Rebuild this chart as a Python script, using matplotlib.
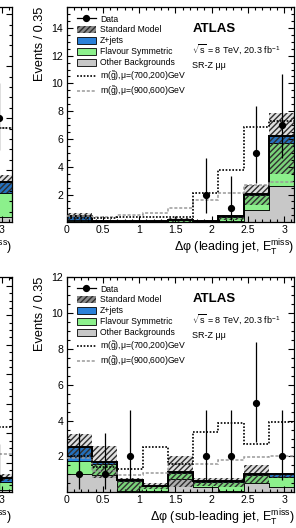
import numpy as np
import matplotlib
matplotlib.use('Agg')
import matplotlib.pyplot as plt
from matplotlib.lines import Line2D
from matplotlib.patches import Patch
from matplotlib.ticker import MultipleLocator, FuncFormatter

plt.rcParams['font.family'] = ['Liberation Sans', 'DejaVu Sans']
plt.rcParams['mathtext.fontset'] = 'custom'
plt.rcParams['mathtext.rm'] = 'Liberation Sans'
plt.rcParams['mathtext.it'] = 'Liberation Sans:italic'
plt.rcParams['mathtext.bf'] = 'Liberation Sans:bold'
plt.rcParams['hatch.linewidth'] = 1.0

# ---------------- data ----------------
bin_edges = np.linspace(0, np.pi, 10)   # 9 bins of 0.35

# leading jet panel
lead_data = [0, 0, 0, 0, 0, 2, 1, 5, 7]
lead_err_lo = [0, 0, 0, 0, 0, 0.7, 0.17, 2.8, 4.6]
lead_err_hi = [0, 0, 0, 0, 0, 4.6, 3.3, 8.4, 10.7]
lead_other = [0.10, 0.05, 0.03, 0.03, 0.05, 0.03, 0.10, 0.87, 2.6]
lead_fs = [0.05, 0.03, 0.02, 0.02, 0.10, 0.05, 0.30, 1.08, 3.1]
lead_zjets = [0.30, 0.02, 0.01, 0.01, 0.03, 0.02, 0.03, 0.10, 0.5]
lead_band_lo = [0.15, 0.02, 0.02, 0.02, 0.05, 0.03, 0.15, 1.25, 3.5]
lead_band_hi = [0.70, 0.20, 0.12, 0.12, 0.30, 0.20, 0.55, 2.70, 7.9]
lead_sig700 = [0.30, 0.30, 0.35, 0.40, 0.40, 2.10, 3.75, 6.85, 7.3]
lead_sig900 = [0.45, 0.40, 0.55, 0.70, 1.00, 1.60, 2.10, 2.70, 2.9]

# sub-leading jet panel
sub_data = [1, 1, 2, 0, 0, 2, 2, 5, 2]
sub_err_lo = [0.17, 0.17, 0.7, 0, 0, 0.7, 0.7, 2.8, 0.7]
sub_err_hi = [3.3, 3.3, 4.6, 0, 0, 4.6, 4.6, 8.4, 4.6]
sub_other = [1.00, 0.95, 0.10, 0.05, 0.75, 0.30, 0.05, 0.50, 0.30]
sub_fs = [0.74, 0.65, 0.55, 0.30, 0.35, 0.30, 0.55, 0.45, 0.55]
sub_zjets = [0.81, 0.10, 0.05, 0.03, 0.05, 0.05, 0.03, 0.10, 0.17]
sub_band_lo = [1.90, 0.80, 0.10, 0.20, 0.30, 0.35, 0.30, 0.50, 0.80]
sub_band_hi = [3.25, 2.57, 0.80, 0.50, 2.05, 0.80, 0.80, 1.55, 1.10]
sub_sig700 = [2.0, 1.4, 1.3, 2.5, 1.6, 3.35, 3.85, 2.7, 3.9]
sub_sig900 = [1.9, 1.2, 0.95, 1.1, 1.6, 1.6, 1.8, 1.95, 2.0]

# neighbouring (ee) panels, only the last bin is visible
ee_lead_data = [10]
ee_lead_err_lo = [6.9]
ee_lead_err_hi = [13.4]
ee_lead_other = [0.5]
ee_lead_fs = [2.3]
ee_lead_zjets = [1.05]
ee_lead_band_lo = [2.8]
ee_lead_band_hi = [4.5]
ee_lead_sig700 = [9.05]
ee_lead_sig900 = [9.05]

ee_sub_data = [1]
ee_sub_err_lo = [0.17]
ee_sub_err_hi = [3.3]
ee_sub_other = [0.14]
ee_sub_fs = [0.56]
ee_sub_zjets = [0.30]
ee_sub_band_lo = [0.75]
ee_sub_band_hi = [1.22]
ee_sub_sig700 = [4.4]
ee_sub_sig900 = [2.6]

legend_labels = ['Data', 'Standard Model', 'Z+jets', 'Flavour Symmetric',
                 'Other Backgrounds',
                 r'm($\tilde{\mathrm{g}}$),μ=(700,200)GeV',
                 r'm($\tilde{\mathrm{g}}$),μ=(900,600)GeV']

C_Z = '#2a80d8'
C_FS = '#8cf08c'
C_OT = '#c8c8c8'
C_HATCH = '#2e2e2e'
C_SIG2 = '#9a9a9a'

FS_TICK = 7.6


def style_axes(ax, ylim, major, minor):
    ax.set_xlim(0, np.pi)
    ax.set_ylim(*ylim)
    ax.xaxis.set_major_locator(MultipleLocator(0.5))
    ax.xaxis.set_minor_locator(MultipleLocator(0.1))
    ax.yaxis.set_major_locator(MultipleLocator(major))
    ax.yaxis.set_minor_locator(MultipleLocator(minor))
    ax.xaxis.set_major_formatter(FuncFormatter(lambda v, p: '%g' % v))
    ax.tick_params(which='both', direction='in', top=True, right=True,
                   labelsize=FS_TICK, width=0.8, pad=2.5)
    ax.tick_params(which='major', length=4.0)
    ax.tick_params(which='minor', length=2.0)
    for s in ax.spines.values():
        s.set_linewidth(0.9)


def draw_panel(ax, edges, data, elo, ehi, other, fs, zj, blo, bhi, s700, s900):
    other = np.asarray(other, float)
    fs = np.asarray(fs, float)
    zj = np.asarray(zj, float)
    c1 = other
    c2 = other + fs
    c3 = c2 + zj
    ax.stairs(c1, edges, baseline=0, fill=True, facecolor=C_OT,
              edgecolor='black', lw=0.6, zorder=1)
    ax.stairs(c2, edges, baseline=c1, fill=True, facecolor=C_FS,
              edgecolor='black', lw=0.6, zorder=1)
    ax.stairs(c3, edges, baseline=c2, fill=True, facecolor=C_Z,
              edgecolor='black', lw=0.6, zorder=1)
    ax.stairs(np.asarray(bhi, float), edges, baseline=np.asarray(blo, float),
              fill=True, facecolor=(0, 0, 0, 0.12), edgecolor=C_HATCH,
              hatch='//////', lw=0, zorder=2)
    ax.stairs(c3, edges, baseline=None, color='black', lw=1.4, zorder=3)
    ax.stairs(s900, edges, baseline=None, color=C_SIG2, lw=1.1,
              linestyle=(0, (2.0, 1.2)), zorder=4)
    ax.stairs(s700, edges, baseline=None, color='black', lw=1.2,
              linestyle=(0, (1.0, 1.0)), zorder=4)
    centers = 0.5 * (edges[:-1] + edges[1:])
    d = np.asarray(data, float)
    m = d > 0
    lo = d - np.asarray(elo, float)
    hi = np.asarray(ehi, float) - d
    ax.errorbar(centers[m], d[m], yerr=[lo[m], hi[m]], fmt='o', color='black',
                ms=4.2, elinewidth=0.9, capsize=0, zorder=5)


def add_labels(ax, xlabel):
    ax.set_ylabel('Events / 0.35', fontsize=9.2, loc='top')
    ax.yaxis.set_label_coords(-0.092, 1.0)
    ax.set_xlabel(xlabel, fontsize=9.0, loc='right')
    ax.xaxis.set_label_coords(1.0, -0.075)


def add_legend(ax):
    handles = [
        Line2D([], [], color='black', marker='o', ms=4.2, lw=0.9),
        Patch(facecolor='#8a8a8a', edgecolor=C_HATCH, hatch='//////', lw=0),
        Patch(facecolor=C_Z, edgecolor='black', lw=0.6),
        Patch(facecolor=C_FS, edgecolor='black', lw=0.6),
        Patch(facecolor=C_OT, edgecolor='black', lw=0.6),
        Line2D([], [], color='black', lw=1.2, linestyle=(0, (1.0, 1.0))),
        Line2D([], [], color=C_SIG2, lw=1.1, linestyle=(0, (2.0, 1.2))),
    ]
    ax.legend(handles, legend_labels, loc='upper left',
              bbox_to_anchor=(0.045, 0.965), frameon=False, fontsize=6.2,
              handlelength=2.2, handleheight=0.85, handletextpad=0.5,
              labelspacing=0.22, borderpad=0, borderaxespad=0)
    ax.text(0.552, 0.898, 'ATLAS', transform=ax.transAxes, fontsize=9.5,
            fontweight='bold', va='center', ha='left')
    ax.text(0.552, 0.805, r'$\sqrt{\mathrm{s}}$ = 8 TeV, 20.3 fb$^{\mathregular{-1}}$',
            transform=ax.transAxes, fontsize=6.5, va='center', ha='left')
    ax.text(0.552, 0.726, 'SR-Z μμ', transform=ax.transAxes, fontsize=6.5,
            va='center', ha='left')


fig = plt.figure(figsize=(2.96, 5.28), dpi=100)

W = 0.769
H = 0.4072
X_MAIN = 0.2253
X_LEFT = -0.7284
Y_TOP = 0.5795
Y_BOT = 0.0682

xl_lead = r'Δφ (leading jet, $\mathrm{E}_{\mathrm{T}}^{\mathrm{miss}}$)'
xl_sub = r'Δφ (sub-leading jet, $\mathrm{E}_{\mathrm{T}}^{\mathrm{miss}}$)'

only_three = FuncFormatter(lambda v, p: '3' if abs(v - 3) < 1e-6 else '')

# neighbouring panels (mostly outside the picture)
ax_l1 = fig.add_axes([X_LEFT, Y_TOP, W, H])
draw_panel(ax_l1, bin_edges[-2:], ee_lead_data, ee_lead_err_lo, ee_lead_err_hi,
           ee_lead_other, ee_lead_fs, ee_lead_zjets, ee_lead_band_lo,
           ee_lead_band_hi, ee_lead_sig700, ee_lead_sig900)
style_axes(ax_l1, (0.02, 20.7), 5, 1)
ax_l1.tick_params(labelleft=False)
ax_l1.xaxis.set_major_formatter(only_three)
ax_l1.set_xlabel(xl_lead, fontsize=9.0, loc='right')
ax_l1.xaxis.set_label_coords(1.0, -0.075)

ax_l2 = fig.add_axes([X_LEFT, Y_BOT, W, H])
draw_panel(ax_l2, bin_edges[-2:], ee_sub_data, ee_sub_err_lo, ee_sub_err_hi,
           ee_sub_other, ee_sub_fs, ee_sub_zjets, ee_sub_band_lo,
           ee_sub_band_hi, ee_sub_sig700, ee_sub_sig900)
style_axes(ax_l2, (0.02, 14.6), 2, 0.5)
ax_l2.tick_params(labelleft=False)
ax_l2.xaxis.set_major_formatter(only_three)
ax_l2.set_xlabel(xl_sub, fontsize=9.0, loc='right')
ax_l2.xaxis.set_label_coords(1.0, -0.075)

# main panels
ax1 = fig.add_axes([X_MAIN, Y_TOP, W, H])
draw_panel(ax1, bin_edges, lead_data, lead_err_lo, lead_err_hi, lead_other,
           lead_fs, lead_zjets, lead_band_lo, lead_band_hi, lead_sig700,
           lead_sig900)
style_axes(ax1, (0.02, 15.5), 2, 0.5)
add_labels(ax1, xl_lead)
add_legend(ax1)

ax2 = fig.add_axes([X_MAIN, Y_BOT, W, H])
draw_panel(ax2, bin_edges, sub_data, sub_err_lo, sub_err_hi, sub_other,
           sub_fs, sub_zjets, sub_band_lo, sub_band_hi, sub_sig700,
           sub_sig900)
style_axes(ax2, (0.02, 12.0), 2, 0.5)
add_labels(ax2, xl_sub)
add_legend(ax2)

fig.savefig('out.png', dpi=100)
